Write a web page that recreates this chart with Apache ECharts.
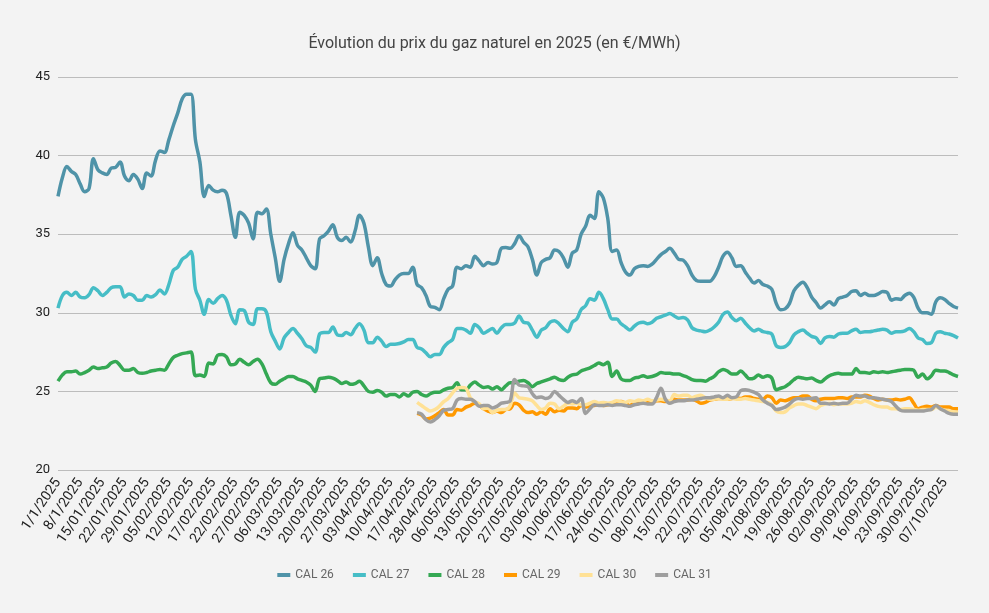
<!DOCTYPE html>
<html>
<head>
<meta charset="utf-8">
<title>Prix du gaz naturel 2025</title>
<script src="https://cdn.jsdelivr.net/npm/echarts@6.0.0/dist/echarts.min.js"></script>
<style>
  html, body { margin: 0; padding: 0; background: #f3f3f3; }
  #chart { width: 989px; height: 613px; }
</style>
</head>
<body>
<div id="chart"></div>
<script>
// libellés affichés sur l'axe (un tous les 5 points de cotation)
const tickLabels = ['1/1/2025', '8/1/2025', '15/01/2025', '22/01/2025', '29/01/2025', '05/02/2025',
  '12/02/2025', '17/02/2025', '22/02/2025', '27/02/2025', '06/03/2025', '13/03/2025', '20/03/2025',
  '27/03/2025', '03/04/2025', '10/04/2025', '17/04/2025', '28/04/2025', '06/05/2025', '13/05/2025',
  '20/05/2025', '27/05/2025', '03/06/2025', '10/06/2025', '17/06/2025', '24/06/2025', '01/07/2025',
  '08/07/2025', '15/07/2025', '22/07/2025', '29/07/2025', '05/08/2025', '12/08/2025', '19/08/2025',
  '26/08/2025', '02/09/2025', '09/09/2025', '16/09/2025', '23/09/2025', '30/09/2025', '07/10/2025'];
const labelStep = 5;

const cal26 = [
  37.4, 38.6, 39.3, 39.0, 38.8, 38.2, 37.7, 37.9, 39.8, 39.1,
  38.9, 38.8, 39.2, 39.25, 39.6, 38.7, 38.4, 38.8, 38.5, 37.9,
  38.9, 38.7, 39.7, 40.3, 40.2, 41.0, 41.9, 42.7, 43.6, 43.9,
  43.9, 41.0, 39.6, 37.4, 38.1, 37.8, 37.7, 37.8, 37.6, 36.2,
  34.8, 36.4, 36.2, 35.7, 34.7, 36.4, 36.3, 36.6, 35.0, 33.5,
  32.0, 33.4, 34.4, 35.1, 34.3, 34.0, 33.5, 33.0, 32.8, 34.7,
  34.9, 35.2, 35.6, 34.8, 34.6, 34.8, 34.5, 35.2, 36.2, 35.7,
  34.2, 33.0, 33.5, 32.5, 31.8, 31.7, 32.1, 32.4, 32.5, 32.5,
  32.9, 31.8, 31.6, 31.1, 30.4, 30.35, 30.2, 30.9, 31.5, 31.7,
  32.9, 32.8, 33.0, 32.9, 33.6, 33.3, 33.0, 33.2, 33.1, 33.2,
  34.1, 34.15, 34.1, 34.4, 34.9, 34.5, 34.2, 33.4, 32.4, 33.2,
  33.4, 33.5, 34.0, 33.9, 33.5, 32.9, 33.8, 34.0, 35.0, 35.5,
  36.2, 36.0, 37.7, 37.3, 36.0, 33.9, 34.0, 33.2, 32.6, 32.4,
  32.8, 32.95, 33.0, 32.95, 33.1, 33.4, 33.7, 33.9, 34.1, 33.8,
  33.4, 33.35, 33.0, 32.4, 32.05, 32.0, 32.0, 32.0, 32.3, 32.9,
  33.6, 33.85, 33.5, 32.95, 33.0, 32.6, 32.2, 31.9, 32.05, 31.8,
  31.7, 31.5, 30.6, 30.2, 30.25, 30.6, 31.4, 31.75, 31.95, 31.6,
  31.0, 30.65, 30.3, 30.5, 30.7, 30.5, 30.9, 31.0, 31.1, 31.35,
  31.4, 31.1, 31.25, 31.1, 31.1, 31.2, 31.35, 31.3, 30.8, 30.9,
  30.85, 31.1, 31.25, 31.0, 30.3, 30.0, 30.0, 29.9, 30.7, 30.95,
  30.85, 30.6, 30.4, 30.3
];
const cal27 = [
  30.3, 31.1, 31.3, 31.1, 31.3, 31.0, 30.95, 31.15, 31.6, 31.4,
  31.1, 31.3, 31.6, 31.65, 31.65, 31.0, 31.2, 31.1, 30.8, 30.8,
  31.1, 31.0, 31.15, 31.45, 31.2, 31.8, 32.7, 32.9, 33.4, 33.6,
  33.9, 31.5, 30.8, 29.9, 30.85, 30.6, 30.9, 31.1, 30.8, 29.85,
  29.3, 30.2, 30.15, 29.4, 29.25, 30.25, 30.25, 30.05, 28.8, 28.2,
  27.7, 28.4, 28.75, 29.0, 28.7, 28.35, 27.9, 27.8, 27.5, 28.65,
  28.75, 28.75, 29.1, 28.6, 28.55, 28.75, 28.6, 29.0, 29.3, 28.9,
  28.1, 28.1, 28.45, 28.2, 27.85, 28.0, 28.0, 28.05, 28.15, 28.3,
  28.3, 27.8, 27.7, 27.45, 27.2, 27.35, 27.35, 27.8, 28.1, 28.3,
  29.0, 29.0, 28.9, 28.7, 29.25, 29.05, 28.7, 28.85, 29.0, 28.7,
  29.05, 29.25, 29.25, 29.35, 29.8, 29.4, 29.35, 28.9, 28.45, 28.9,
  29.05, 29.4, 29.5, 29.3, 29.0, 28.8, 29.4, 29.6, 30.2, 30.45,
  30.9, 30.8, 31.3, 30.9, 30.2, 29.6, 29.6, 29.3, 29.1, 28.9,
  29.15, 29.35, 29.4, 29.3, 29.4, 29.65, 29.75, 29.85, 29.95, 29.8,
  29.65, 29.7, 29.55, 29.05, 28.9, 28.85, 28.8, 28.9, 29.1, 29.4,
  29.9, 30.05, 29.7, 29.5, 29.65, 29.35, 29.05, 28.85, 28.95, 28.8,
  28.75, 28.65, 27.9, 27.8, 27.85, 28.1, 28.6, 28.8, 28.9, 28.7,
  28.5, 28.4, 28.05, 28.4, 28.5, 28.45, 28.65, 28.7, 28.7, 28.85,
  28.95, 28.75, 28.8, 28.8, 28.85, 28.9, 28.95, 28.9, 28.7, 28.8,
  28.8, 28.85, 29.0, 28.8, 28.4, 28.3, 28.05, 28.1, 28.7, 28.8,
  28.7, 28.65, 28.55, 28.4
];
const cal28 = [
  25.65, 26.05, 26.25, 26.25, 26.3, 26.1, 26.2, 26.35, 26.55, 26.45,
  26.5, 26.55, 26.8, 26.9, 26.65, 26.35, 26.35, 26.45, 26.2, 26.15,
  26.2, 26.3, 26.35, 26.4, 26.35, 26.75, 27.15, 27.3, 27.4, 27.45,
  27.5, 26.0, 26.05, 25.95, 26.8, 26.75, 27.3, 27.35, 27.2, 26.7,
  26.75, 27.05, 26.85, 26.7, 26.9, 27.05, 26.75, 26.1, 25.55, 25.45,
  25.65, 25.8, 25.95, 25.95, 25.8, 25.7, 25.6, 25.4, 25.0, 25.8,
  25.85, 25.9, 25.85, 25.7, 25.5, 25.6, 25.45, 25.5, 25.65, 25.35,
  25.0, 24.95, 25.05, 24.95, 24.7, 24.8, 24.8, 24.65, 24.85, 24.7,
  24.95, 25.0, 24.8, 24.7, 24.85, 24.95, 24.95, 25.1, 25.2, 25.25,
  25.55, 25.1, 25.1, 25.4, 25.6, 25.4, 25.25, 25.3, 25.15, 25.3,
  25.1, 25.35, 25.55, 25.55, 25.65, 25.7, 25.55, 25.3, 25.5, 25.6,
  25.7, 25.8, 25.9, 25.75, 25.7, 25.9, 26.05, 26.1, 26.3, 26.4,
  26.5, 26.65, 26.8, 26.7, 26.85, 25.95, 26.3, 25.8, 25.7, 25.7,
  25.85, 25.9, 26.0, 25.9, 25.95, 26.05, 26.2, 26.15, 26.15, 26.1,
  26.1, 26.0, 25.9, 25.75, 25.7, 25.7, 25.65, 25.8, 25.95, 26.25,
  26.4, 26.3, 26.1, 26.1, 26.3, 26.05, 25.8, 25.85, 26.05, 25.9,
  26.0, 25.85, 25.1, 25.2, 25.3, 25.5, 25.75, 25.9, 25.85, 25.8,
  25.85, 25.7, 25.6, 25.8, 26.0, 26.1, 26.15, 26.1, 26.1, 26.1,
  26.45, 26.2, 26.2, 26.15, 26.25, 26.2, 26.25, 26.2, 26.25, 26.3,
  26.35, 26.4, 26.4, 26.35, 25.9, 26.1, 25.8, 26.0, 26.35, 26.3,
  26.3, 26.2, 26.05, 25.95
];
// CAL 29 à CAL 31 : cotations disponibles à partir du 82e point
const lateStart = 81;
const cal29 = [
  23.6, 23.5, 23.25, 23.3, 23.45, 23.65, 23.85, 23.5, 23.5,
  23.85, 23.8, 24.0, 24.1, 24.25, 24.1, 23.9, 23.75, 23.65, 23.75,
  23.65, 23.85, 23.9, 24.25, 24.15, 23.8, 23.65, 23.7, 23.55, 23.7,
  23.55, 23.9, 23.7, 23.8, 23.75, 23.95, 23.95, 23.9, 24.1, 24.0,
  24.1, 24.1, 24.15, 24.1, 24.15, 24.2, 24.25, 24.35, 24.25, 24.1,
  24.25, 24.25, 24.3, 24.3, 24.3, 24.4, 24.4, 24.35, 24.4, 24.5,
  24.45, 24.45, 24.45, 24.5, 24.4, 24.25, 24.3, 24.45, 24.5, 24.55,
  24.55, 24.5, 24.55, 24.6, 24.55, 24.65, 24.65, 24.55, 24.5, 24.5,
  24.7, 24.6, 24.25, 24.45, 24.4, 24.5, 24.6, 24.6, 24.7, 24.7,
  24.5, 24.4, 24.5, 24.55, 24.55, 24.55, 24.6, 24.6, 24.55, 24.65,
  24.65, 24.65, 24.75, 24.7, 24.55, 24.45, 24.5, 24.45, 24.45, 24.5,
  24.45, 24.5, 24.6, 24.25, 23.9, 24.0, 24.05, 24.0, 24.1, 24.0,
  24.0, 24.0, 23.9, 23.9
];
const cal30 = [
  24.3, 24.1, 23.9, 23.75, 23.85, 24.05, 24.35, 24.55, 24.9,
  25.2, 25.25, 25.2, 24.6, 24.35, 24.2, 23.9, 23.95, 23.65, 23.8,
  23.85, 23.85, 24.1, 24.9, 24.6, 24.55, 24.5, 24.4, 24.1, 23.85,
  23.95, 24.25, 24.2, 23.9, 24.05, 24.25, 24.2, 24.25, 24.15, 24.15,
  24.25, 24.35, 24.25, 24.3, 24.25, 24.3, 24.4, 24.35, 24.3, 24.4,
  24.35, 24.45, 24.4, 24.5, 24.4, 24.45, 24.5, 24.45, 24.4, 24.8,
  24.7, 24.75, 24.75, 24.6, 24.7, 24.75, 24.6, 24.5, 24.5, 24.55,
  24.5, 24.5, 24.55, 24.5, 24.5, 24.55, 24.5, 24.45, 24.4, 24.35,
  24.3, 24.15, 23.75, 23.65, 23.7, 23.95, 24.1, 24.2, 24.2, 24.1,
  24.0, 23.9, 24.1, 24.2, 24.25, 24.15, 24.2, 24.2, 24.2, 24.25,
  24.35, 24.3, 24.4, 24.3, 24.15, 24.05, 24.0, 24.0, 23.9, 23.9,
  23.85, 23.9, 23.9, 23.85, 23.8, 23.85, 23.85, 23.85, 24.0, 23.9,
  23.8, 23.75, 23.7, 23.65
];
const cal31 = [
  23.65, 23.55, 23.2, 23.05, 23.2, 23.45, 23.8, 23.85, 23.9,
  24.45, 24.55, 24.5, 24.5, 24.35, 24.05, 24.1, 24.1, 23.95, 24.05,
  24.25, 24.3, 24.4, 25.75, 25.4, 25.35, 25.3, 24.85, 24.6, 24.65,
  24.55, 24.65, 25.0, 24.75, 24.5, 24.3, 24.4, 24.3, 24.55, 23.6,
  23.9, 24.15, 24.1, 24.1, 24.15, 24.1, 24.15, 24.15, 24.1, 24.05,
  24.15, 24.2, 24.25, 24.2, 24.2, 24.6, 25.2, 24.5, 24.25, 24.35,
  24.4, 24.4, 24.45, 24.45, 24.5, 24.55, 24.6, 24.6, 24.65, 24.7,
  24.6, 24.75, 24.6, 24.65, 25.05, 25.1, 25.05, 24.95, 24.8, 24.45,
  24.25, 24.1, 23.85, 23.9, 24.0, 24.2, 24.45, 24.55, 24.5, 24.55,
  24.55, 24.6, 24.25, 24.25, 24.2, 24.25, 24.2, 24.25, 24.25, 24.5,
  24.75, 24.7, 24.7, 24.6, 24.6, 24.55, 24.5, 24.45, 24.35, 24.05,
  23.8, 23.75, 23.75, 23.75, 23.75, 23.75, 23.8, 23.85, 24.1, 23.9,
  23.75, 23.6, 23.55, 23.55
];

const days = cal26.map((v, i) => i);
const pad = (arr) => new Array(lateStart).fill(null).concat(arr);

const seriesDefs = [
  { name: 'CAL 26', color: '#4f93a8', data: cal26 },
  { name: 'CAL 27', color: '#46bdc6', data: cal27 },
  { name: 'CAL 28', color: '#34a853', data: cal28 },
  { name: 'CAL 29', color: '#ff9900', data: pad(cal29) },
  { name: 'CAL 30', color: '#ffe195', data: pad(cal30) },
  { name: 'CAL 31', color: '#9e9e9e', data: pad(cal31) }
];

const myChart = echarts.init(document.getElementById('chart'));
myChart.setOption({
  animation: false,
  backgroundColor: '#f3f3f3',
  textStyle: { fontFamily: 'Roboto' },
  title: {
    text: 'Évolution du prix du gaz naturel en 2025 (en €/MWh)',
    left: 'center',
    top: 31,
    textStyle: { fontFamily: 'Roboto', fontSize: 16, fontWeight: 'normal', color: '#444' }
  },
  legend: {
    bottom: 27,
    left: 'center',
    icon: 'rect',
    itemWidth: 13,
    itemHeight: 4,
    itemGap: 19,
    textStyle: { fontFamily: 'Roboto', fontSize: 12, color: '#666' },
    data: seriesDefs.map(s => s.name)
  },
  grid: { left: 58, right: 31, top: 77, bottom: 143 },
  xAxis: {
    type: 'category',
    boundaryGap: false,
    data: days,
    axisLine: { show: false },
    axisTick: { show: false },
    axisLabel: {
      interval: (idx) => idx % labelStep === 0,
      formatter: (v, idx) => tickLabels[idx / labelStep] || '',
      rotate: 56,
      margin: 10,
      fontFamily: 'Roboto',
      fontSize: 14,
      color: '#222'
    }
  },
  yAxis: {
    type: 'value',
    min: 20,
    max: 45,
    interval: 5,
    axisLine: { show: false },
    axisTick: { show: false },
    axisLabel: { fontFamily: 'Roboto', fontSize: 13, color: '#222', margin: 8 },
    splitLine: { lineStyle: { color: '#bcbcbc', width: 1 } }
  },
  series: seriesDefs.map(s => ({
    name: s.name,
    type: 'line',
    data: s.data,
    smooth: 0.35,
    symbol: 'none',
    connectNulls: false,
    color: s.color,
    lineStyle: { width: 3.5, color: s.color }
  }))
});
window.addEventListener('resize', function () {
  myChart.resize();
});
</script>
</body>
</html>
